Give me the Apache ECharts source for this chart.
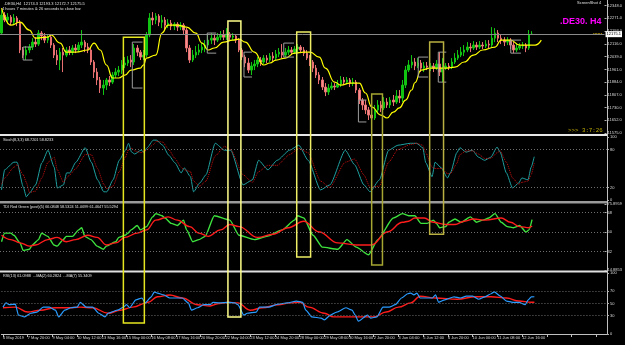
<!DOCTYPE html>
<html>
<head>
<meta charset="utf-8">
<script src="https://cdn.jsdelivr.net/npm/echarts@6/dist/echarts.min.js"></script>
<style>
  html, body { margin: 0; background: #000; }
  #chart { width: 625px; height: 345px; }
</style>
</head>
<body>
<div id="chart"></div>
<script>
// x-axis labels, one every 8 bars (H4)
const dateTicks = ['6 May 2019', '7 May 20:00', '9 May 04:00', '10 May 12:00', '13 May 16:00', '15 May 00:00',
  '16 May 08:00', '17 May 16:00', '20 May 20:00', '22 May 04:00', '23 May 12:00', '24 May 20:00',
  '28 May 00:00', '29 May 08:00', '30 May 16:00', '2 Jun 20:00', '4 Jun 04:00', '5 Jun 12:00',
  '6 Jun 20:00', '10 Jun 00:00', '11 Jun 08:00', '12 Jun 16:00'];

const opens = [
  12182, 12291, 12261, 12279, 12248, 12273, 12248, 12079, 12048, 12079,
  12097, 12127, 12115, 12182, 12164, 12139, 12157, 12109, 12048, 12018,
  12066, 12048, 12079, 12066, 12091, 12079, 12109, 12127, 12097, 12079,
  12006, 11945, 11897, 11848, 11866, 11897, 11884, 11927, 11945, 11957,
  11988, 12000, 12018, 12006, 12091, 12066, 12036, 12048, 12170, 12273,
  12261, 12285, 12248, 12261, 12230, 12242, 12224, 12236, 12218, 12230,
  12200, 12091, 12018, 12048, 12066, 12079, 12097, 12109, 12139, 12151,
  12139, 12157, 12170, 12157, 12176, 12157, 12164, 12139, 12079, 12036,
  12000, 11957, 11982, 11994, 12018, 12006, 12030, 12018, 12042, 12030,
  12054, 12066, 12048, 12066, 12079, 12066, 12085, 12097, 12079, 12060,
  12030, 12006, 11969, 11927, 11897, 11854, 11824, 11848, 11860, 11854,
  11872, 11897, 11884, 11897, 11878, 11884, 11836, 11775, 11745, 11715,
  11684, 11666, 11715, 11745, 11727, 11763, 11745, 11775, 11763, 11799,
  11787, 11866, 11957, 11988, 12006, 11982, 12000, 11969, 11982, 11975,
  11982, 11969, 11994, 11945, 11969, 11982, 11975, 12006, 12030, 12048,
  12066, 12079, 12097, 12091, 12109, 12097, 12109, 12103, 12115, 12109,
  12151, 12182, 12151, 12139, 12127, 12139, 12109, 12079, 12091, 12103,
  12109, 12091, 12174.3];
const closes = [
  12291, 12261, 12279, 12248, 12273, 12248, 12079, 12048, 12079, 12097,
  12127, 12115, 12182, 12164, 12139, 12157, 12109, 12048, 12018, 12066,
  12048, 12079, 12066, 12091, 12079, 12109, 12127, 12097, 12079, 12006,
  11945, 11897, 11848, 11866, 11897, 11884, 11927, 11945, 11957, 11988,
  12000, 12018, 12006, 12091, 12066, 12036, 12048, 12170, 12273, 12261,
  12285, 12248, 12261, 12230, 12242, 12224, 12236, 12218, 12230, 12200,
  12091, 12018, 12048, 12066, 12079, 12097, 12109, 12139, 12151, 12139,
  12157, 12170, 12157, 12176, 12157, 12164, 12139, 12079, 12036, 12000,
  11957, 11982, 11994, 12018, 12006, 12030, 12018, 12042, 12030, 12054,
  12066, 12048, 12066, 12079, 12066, 12085, 12097, 12079, 12060, 12030,
  12006, 11969, 11927, 11897, 11854, 11824, 11848, 11860, 11854, 11872,
  11897, 11884, 11897, 11878, 11884, 11836, 11775, 11745, 11715, 11684,
  11666, 11715, 11745, 11727, 11763, 11745, 11775, 11763, 11799, 11787,
  11866, 11957, 11988, 12006, 11982, 12000, 11969, 11982, 11975, 11982,
  11969, 11994, 11945, 11969, 11982, 11975, 12006, 12030, 12048, 12066,
  12079, 12097, 12091, 12109, 12097, 12109, 12103, 12115, 12109, 12151,
  12182, 12151, 12139, 12127, 12139, 12109, 12079, 12091, 12103, 12109,
  12091, 12170, 12175.5];
const lows = [
  12176, 12248, 12236, 12230, 12236, 12224, 12060, 12030, 12018, 12060,
  12079, 12097, 12103, 12139, 12121, 12121, 12091, 12030, 11988, 11957,
  11945, 12036, 12048, 12048, 12060, 12066, 12091, 12066, 12060, 11988,
  11909, 11866, 11818, 11806, 11836, 11860, 11872, 11909, 11921, 11933,
  11969, 11982, 11975, 11988, 12042, 12018, 12018, 12036, 12157, 12230,
  12236, 12224, 12212, 12200, 12212, 12200, 12200, 12194, 12200, 12176,
  12066, 12000, 12006, 12030, 12048, 12060, 12066, 12091, 12115, 12109,
  12127, 12139, 12139, 12139, 12133, 12139, 12121, 12066, 12018, 11975,
  11939, 11927, 11957, 11975, 11982, 11994, 12000, 12006, 12012, 12018,
  12036, 12030, 12036, 12048, 12048, 12054, 12066, 12060, 12042, 12018,
  11982, 11945, 11909, 11872, 11836, 11799, 11806, 11836, 11836, 11848,
  11854, 11866, 11872, 11854, 11860, 11818, 11751, 11715, 11690, 11654,
  11636, 11654, 11696, 11702, 11715, 11727, 11727, 11739, 11751, 11757,
  11763, 11848, 11945, 11969, 11957, 11969, 11945, 11945, 11957, 11951,
  11945, 11957, 11921, 11884, 11957, 11957, 11963, 11994, 12018, 12036,
  12042, 12066, 12066, 12079, 12079, 12085, 12085, 12091, 12091, 12097,
  12127, 12127, 12115, 12103, 12109, 12085, 12060, 12066, 12079, 12085,
  12066, 12079, 12172.7];
const highs = [
  12321, 12309, 12303, 12291, 12297, 12285, 12261, 12097, 12103, 12115,
  12151, 12157, 12200, 12194, 12182, 12176, 12170, 12121, 12079, 12091,
  12091, 12097, 12103, 12109, 12115, 12127, 12200, 12139, 12121, 12091,
  12018, 11969, 11915, 11897, 11909, 11921, 11945, 11969, 11982, 12018,
  12036, 12042, 12048, 12115, 12109, 12079, 12079, 12188, 12303, 12309,
  12303, 12297, 12291, 12279, 12267, 12261, 12248, 12248, 12248, 12242,
  12212, 12109, 12079, 12103, 12115, 12121, 12139, 12170, 12182, 12176,
  12182, 12194, 12200, 12212, 12188, 12182, 12176, 12151, 12091, 12048,
  12030, 12006, 12018, 12036, 12036, 12048, 12048, 12060, 12066, 12079,
  12091, 12115, 12091, 12103, 12097, 12103, 12115, 12109, 12097, 12079,
  12048, 12018, 11988, 11945, 11915, 11878, 11872, 11884, 11878, 11897,
  11921, 11915, 11915, 11909, 11909, 11897, 11848, 11787, 11775, 11733,
  11715, 11745, 11775, 11769, 11793, 11787, 11793, 11806, 11836, 11836,
  11897, 11982, 12018, 12048, 12030, 12030, 12018, 12006, 12006, 12000,
  12000, 12018, 12066, 12030, 12000, 12000, 12030, 12060, 12079, 12097,
  12109, 12127, 12121, 12133, 12127, 12133, 12127, 12139, 12139, 12218,
  12212, 12200, 12170, 12157, 12157, 12151, 12127, 12115, 12121, 12127,
  12121, 12200, 12193.3];
const lastPrice = 12175.1;

// [bar, value] readings of the indicator lines
const maLine = [[0, 12333], [3, 12230], [6, 12248], [9, 12200], [11, 12151], [15, 12157], [16, 12170], [19, 12121],
  [21, 12066], [24, 12066], [28, 12079], [30, 12121], [32, 12079], [34, 11988], [36, 11909], [38, 11909], [40, 11927],
  [42, 11957], [45, 11969], [46, 11988], [47, 12030], [50, 12048], [52, 12182], [54, 12230], [57, 12230], [60, 12218],
  [63, 12182], [65, 12121], [67, 12079], [69, 12091], [72, 12127], [75, 12139], [77, 12145], [79, 12127], [82, 12066],
  [85, 11988], [87, 12000], [89, 12018], [92, 12030], [95, 12060], [98, 12066], [100, 12066], [103, 12036], [105, 11969],
  [108, 11884], [110, 11866], [113, 11878], [116, 11878], [118, 11818], [120, 11733], [123, 11684], [125, 11666],
  [127, 11702], [129, 11727], [131, 11775], [133, 11836], [134, 11880], [136, 11957], [139, 11969], [142, 11969],
  [144, 11969], [147, 11975], [150, 12006], [153, 12048], [156, 12079], [160, 12097], [162, 12139], [165, 12139],
  [168, 12109], [171, 12109], [173, 12109], [175, 12139]];

const stochK = [[0, 16], [1, 48], [4, 60], [5, 60], [7, 21], [8, 5], [9, 11], [11, 24], [13, 59], [15, 79], [17, 52],
  [18, 19], [20, 24], [21, 43], [22, 43], [24, 60], [27, 83], [29, 60], [31, 32], [33, 13], [34, 13], [36, 32], [38, 63],
  [40, 79], [41, 90], [42, 76], [43, 73], [45, 79], [46, 76], [47, 83], [49, 95], [50, 95], [52, 87], [54, 71], [56, 59],
  [58, 43], [59, 51], [61, 37], [62, 13], [64, 27], [66, 40], [69, 90], [72, 79], [74, 79], [78, 24], [81, 32], [83, 63],
  [86, 48], [89, 63], [93, 79], [96, 87], [99, 63], [103, 16], [106, 24], [111, 79], [114, 56], [117, 24], [119, 13],
  [122, 32], [125, 79], [128, 87], [132, 90], [134, 90], [136, 83], [137, 59], [139, 37], [140, 60], [142, 51],
  [144, 35], [145, 44], [147, 75], [148, 83], [150, 76], [152, 79], [154, 68], [156, 63], [158, 68], [160, 84],
  [161, 76], [163, 43], [165, 19], [167, 27], [168, 35], [170, 32], [171, 52], [172, 68.7]];
const stochD = [[0, 25], [1, 35], [4, 52], [5, 56], [7, 40], [8, 28], [9, 12], [11, 14], [13, 35], [15, 60], [17, 68],
  [18, 48], [20, 28], [21, 35], [22, 40], [24, 50], [27, 72], [29, 72], [31, 50], [33, 25], [34, 18], [36, 22], [38, 45],
  [40, 68], [41, 80], [42, 82], [43, 78], [45, 75], [46, 77], [47, 80], [49, 88], [50, 93], [52, 92], [54, 80], [56, 66],
  [58, 52], [59, 48], [61, 45], [62, 30], [64, 22], [66, 30], [69, 70], [72, 85], [74, 80], [78, 40], [81, 28], [83, 45],
  [86, 55], [89, 55], [93, 72], [96, 82], [99, 75], [103, 30], [106, 20], [111, 60], [114, 65], [117, 40], [119, 20],
  [122, 22], [125, 60], [128, 80], [132, 88], [134, 90], [136, 87], [137, 75], [139, 52], [140, 50], [142, 50],
  [144, 42], [145, 42], [147, 58], [148, 72], [150, 78], [152, 78], [154, 73], [156, 66], [158, 66], [160, 75],
  [161, 78], [163, 60], [165, 35], [167, 25], [168, 28], [170, 30], [171, 40], [172, 58.8]];

const tdiGreen = [[0, 41], [1, 49], [3, 49], [4, 47], [6, 40], [7, 33], [9, 34], [10, 38], [12, 43], [13, 49], [15, 46],
  [17, 38], [18, 37], [20, 43], [21, 46], [23, 46], [25, 52], [26, 54], [27, 46], [29, 43], [31, 37], [33, 34], [34, 37],
  [37, 41], [38, 45], [40, 47], [41, 49], [42, 52], [44, 56], [45, 52], [47, 55], [49, 64], [50, 67], [52, 65], [53, 63],
  [55, 58], [57, 56], [59, 61], [60, 52], [62, 41], [64, 43], [66, 46], [69, 65], [74, 61], [77, 47], [82, 43], [86, 46],
  [91, 52], [95, 61], [96, 65], [98, 63], [101, 47], [104, 36], [109, 34], [112, 43], [115, 36], [119, 29], [122, 43],
  [127, 63], [130, 67], [132, 65], [134, 65], [136, 58], [138, 58], [140, 61], [141, 58], [142, 54], [144, 55],
  [145, 59], [147, 62], [149, 59], [152, 64], [154, 59], [156, 61], [158, 63], [160, 67], [162, 59], [164, 55],
  [166, 54], [168, 56], [170, 50], [171, 52], [172, 61.5]];
const tdiRed = [[0, 47], [3, 43], [6, 40], [9, 37], [11, 38], [15, 43], [18, 45], [21, 41], [24, 43], [28, 47], [31, 45],
  [34, 38], [37, 40], [40, 45], [44, 49], [47, 52], [50, 61], [54, 64], [57, 61], [61, 55], [64, 49], [67, 46], [71, 52],
  [74, 57], [77, 55], [83, 45], [88, 48], [93, 54], [98, 60], [103, 50], [109, 40], [115, 38], [120, 38], [125, 50],
  [130, 59], [132, 60], [134, 63], [137, 63], [140, 59], [144, 57], [147, 57], [150, 60], [153, 62], [157, 61],
  [162, 63], [165, 59], [168, 55], [171, 54], [172, 55.5]];

const rsiLine = [[0, 44], [1, 51], [2, 48], [4, 49], [5, 31], [7, 28], [9, 34], [11, 36], [13, 44], [15, 44], [17, 39],
  [18, 28], [20, 39], [22, 43], [24, 44], [25, 52], [27, 44], [29, 44], [31, 34], [33, 28], [34, 34], [37, 39], [39, 44],
  [40, 48], [41, 43], [43, 56], [45, 59], [46, 51], [48, 61], [49, 69], [50, 67], [52, 64], [54, 59], [56, 59], [58, 59],
  [60, 51], [61, 39], [63, 43], [65, 48], [67, 48], [68, 52], [70, 51], [73, 52], [75, 51], [76, 48], [78, 31], [79, 34],
  [82, 36], [83, 44], [86, 44], [89, 49], [92, 51], [95, 54], [97, 52], [98, 39], [100, 28], [103, 26], [104, 23],
  [106, 31], [108, 36], [111, 43], [113, 39], [114, 31], [115, 21], [118, 31], [119, 26], [121, 28], [123, 44],
  [125, 44], [127, 48], [129, 59], [131, 66], [132, 67], [133, 64], [134, 67], [135, 59], [137, 59], [139, 59],
  [140, 64], [141, 52], [143, 56], [146, 61], [148, 59], [150, 62], [152, 62], [154, 57], [156, 61], [158, 66],
  [159, 69], [161, 62], [163, 54], [165, 52], [167, 52], [169, 48], [170, 56], [171, 61], [172, 61.1]];
const rsiMa7 = [[0, 43], [4, 44], [8, 36], [12, 39], [17, 43], [21, 43], [25, 44], [29, 43], [34, 34], [38, 39], [42, 44],
  [47, 52], [50, 61], [54, 64], [58, 59], [63, 48], [67, 46], [70, 50], [73, 52], [76, 51], [80, 39], [84, 43], [89, 48],
  [93, 51], [96, 52], [99, 44], [104, 34], [107, 28], [111, 28], [115, 28], [120, 28], [124, 36], [128, 44], [132, 51],
  [135, 62], [140, 59], [147, 57], [153, 61], [158, 61], [163, 59], [167, 54], [171, 52], [172, 52]];

// axis labels on the right
const priceTicks = [11575, 11652, 11730, 11807, 11884, 11961, 12039, 12116, 12193, 12271, 12348];
const stochTicks = [0, 20, 80, 100];
const tdiTicks = [14.8853, 32, 50, 68, 75.8959];
const rsiTicks = [0, 30, 50, 70, 100];
const stochLevels = [80, 20];
const tdiLevels = [68, 50, 32];
const rsiLevels = [70, 50, 30];

// drawn boxes: [fromBar, toBar, top price, bottom pane, bottom value]
const boxes = [
  [39.5, 46.3, 12157, 3, 18],
  [73.4, 77.6, 12255, 3, 28],
  [95.7, 100.2, 12188, 2, 27],
  [120, 123.5, 11812, 2, 19.5],
  [138.8, 143.3, 12127, 2, 48]
];
const boxColors = ['#e6e620', '#ffff8a', '#eeee66', '#a6a632', '#b8b040'];
// grey "[" markers: [fromBar, toBar, top price, bottom price]
const brackets = [
  [7, 10, 12097, 12018], [42.4, 45.7, 12127, 11848], [66.7, 69.6, 12182, 12060],
  [78.6, 81.2, 12066, 11915], [91.5, 94.8, 12121, 12036], [115.7, 118.3, 11775, 11642],
  [135.1, 138.3, 12036, 11915], [141.6, 144.2, 12066, 11884], [165.1, 168.4, 12139, 12060]
];

const SLOTS = 196;
const cats = Array.from({ length: SLOTS }, (_, i) => i);
const FONT = 'Liberation Sans';
const lblColor = '#d8d8d8';

function yAx(grid, min, max, ticks, fmt) {
  return {
    type: 'value', gridIndex: grid, position: 'right', min: min, max: max,
    axisLine: { show: false },
    splitLine: { show: false },
    axisTick: { show: true, customValues: ticks, length: 2, lineStyle: { color: '#b0b0b0' } },
    axisLabel: {
      customValues: ticks, formatter: fmt, color: lblColor, fontSize: 4, fontFamily: FONT, margin: 3
    }
  };
}
function xAx(grid, labels) {
  return {
    type: 'category', gridIndex: grid, data: cats, boundaryGap: true,
    axisLine: { show: labels, lineStyle: { color: '#c0c0c0' } },
    axisTick: labels ? { show: true, interval: 7, alignWithLabel: true, length: 3, lineStyle: { color: '#c0c0c0' } } : { show: false },
    axisLabel: labels ? {
      show: true, interval: 7, align: 'left', margin: 2, color: lblColor, fontSize: 4, fontFamily: FONT,
      formatter: (v, i) => dateTicks[i / 8] || ''
    } : { show: false },
    splitLine: { show: false }
  };
}
function levels(vals) {
  return {
    silent: true, symbol: 'none', label: { show: false },
    lineStyle: { color: '#6e6e6e', type: [1, 2], width: 1 },
    data: vals.map(v => ({ yAxis: v }))
  };
}
function lineS(grid, data, color, width, extra) {
  return Object.assign({
    type: 'line', xAxisIndex: grid, yAxisIndex: grid, data: data, showSymbol: false, symbol: 'none',
    smooth: 0.2, smoothMonotone: 'x', lineStyle: { color: color, width: width }, silent: true
  }, extra || {});
}

const chart = echarts.init(document.getElementById('chart'));
chart.setOption({
  animation: false,
  backgroundColor: '#000',
  grid: [
    { left: 0, right: 18, top: 0, height: 133 },
    { left: 0, right: 18, top: 137, height: 63 },
    { left: 0, right: 18, top: 204, height: 66 },
    { left: 0, right: 18, top: 273, height: 61 }
  ],
  xAxis: [xAx(0, false), xAx(1, false), xAx(2, false), xAx(3, true)],
  yAxis: [
    yAx(0, 11575, 12382.6, priceTicks, v => v.toFixed(1)),
    yAx(1, 0, 100, stochTicks, v => String(v)),
    yAx(2, 14.8853, 75.8959, tdiTicks, v => Number.isInteger(v) ? String(v) : v.toFixed(4)),
    yAx(3, 0, 100, rsiTicks, v => String(v))
  ],
  series: [
    {
      type: 'candlestick', xAxisIndex: 0, yAxisIndex: 0, barWidth: 2, silent: true,
      data: opens.map((o, i) => [o, closes[i], lows[i], highs[i]]),
      itemStyle: { color: '#12c412', borderColor: '#12c412', color0: '#f29090', borderColor0: '#e87070', borderWidth: 1 },
      markLine: {
        silent: true, symbol: 'none',
        lineStyle: { color: '#8a8a8a', type: 'solid', width: 1 },
        label: {
          show: true, position: 'end', distance: 1, formatter: () => lastPrice.toFixed(1),
          backgroundColor: '#ffffff', color: '#000', fontSize: 4, fontFamily: FONT, padding: [1, 1]
        },
        data: [{ yAxis: lastPrice }]
      }
    },
    lineS(0, maLine, '#ffff00', 1.2, { smooth: 0.5 }),
    lineS(1, stochK, '#1fa0a0', 1, { markLine: levels(stochLevels) }),
    lineS(1, stochD, '#c81010', 1, { lineStyle: { color: '#c81010', width: 1, type: [1, 1] } }),
    lineS(2, tdiGreen, '#3ee23e', 1.4, { markLine: levels(tdiLevels) }),
    lineS(2, tdiRed, '#ff1c1c', 1.4, { smooth: 0.4 }),
    lineS(3, rsiMa7, '#ff1c1c', 1.4, { smooth: 0.4, markLine: levels(rsiLevels) }),
    lineS(3, rsiLine, '#2a9cff', 1.2)
  ]
});

function barX(b) {
  const p0 = chart.convertToPixel({ gridIndex: 0 }, [0, 12000])[0];
  const p1 = chart.convertToPixel({ gridIndex: 0 }, [1, 12000])[0];
  return p0 + (p1 - p0) * b;
}
function valY(grid, v) {
  return chart.convertToPixel({ gridIndex: grid }, [0, v])[1];
}

const els = [];
// pane separators and the right frame line
els.push({ type: 'rect', shape: { x: 0, y: 134, width: 607, height: 2 }, style: { fill: '#e6e6e6' }, silent: true });
els.push({ type: 'rect', shape: { x: 0, y: 201, width: 607, height: 2.5 }, style: { fill: '#9a9a9a' }, silent: true });
els.push({ type: 'rect', shape: { x: 0, y: 270.5, width: 607, height: 2 }, style: { fill: '#e0e0e0' }, silent: true });
els.push({ type: 'line', shape: { x1: 607.5, y1: 0, x2: 607.5, y2: 335 }, style: { stroke: '#c0c0c0', lineWidth: 1 }, silent: true });

boxes.forEach((b, k) => {
  const xL = barX(b[0]), xR = barX(b[1]);
  const yT = valY(0, b[2]), yB = valY(b[3], b[4]);
  els.push({
    type: 'rect', z: 50, silent: true,
    shape: { x: xL, y: yT, width: xR - xL, height: yB - yT },
    style: { fill: 'none', stroke: boxColors[k], lineWidth: 1.5 }
  });
});
brackets.forEach(b => {
  const xL = barX(b[0]), xR = barX(b[1]);
  const yT = valY(0, b[2]), yB = valY(0, b[3]);
  els.push({
    type: 'polyline', z: 40, silent: true,
    shape: { points: [[xR, yT], [xL, yT], [xL, yB], [xR, yB]] },
    style: { fill: 'none', stroke: '#9c9c9c', lineWidth: 1 }
  });
});

function txt(x, y, s, size, color, extra) {
  els.push({
    type: 'text', z: 60, silent: true, x: x, y: y,
    style: Object.assign({ text: s, fill: color, fontSize: size, fontFamily: FONT, verticalAlign: 'middle' }, extra || {})
  });
}
txt(4, 3.5, '.DE30,H4  12174.3 12193.3 12172.7 12175.5', 4, '#e0e0e0');
txt(2, 9, '4 hours 7 minutes & 26 seconds to close bar', 4, '#e0e0e0');
txt(577, 3, 'ScreenShot 4', 4, '#e0e0e0');
txt(560, 21.5, '.DE30. H4', 9, '#ff00ff', { fontWeight: 'bold' });
txt(593, 32, '......', 5.5, '#e8c400', { fontWeight: 'bold' });
txt(568, 130, '>>> 3:7:26', 5.8, '#c0ac00', { fontFamily: 'Liberation Mono' });
txt(3, 139.5, 'Stoch(8,3,3) 68.7201 58.8233', 3.8, '#e0e0e0');
txt(3, 207, 'TDI Red Green (post)(5) 66.0848 58.5324 51.0699 61.4647 55.5294', 3.8, '#e0e0e0');
txt(3, 275.5, 'RSI(13) 61.0988  ...MA(2) 60.2824  ...MA(7) 55.3409', 3.8, '#e0e0e0');

chart.setOption({ graphic: { elements: els } });
</script>
</body>
</html>
